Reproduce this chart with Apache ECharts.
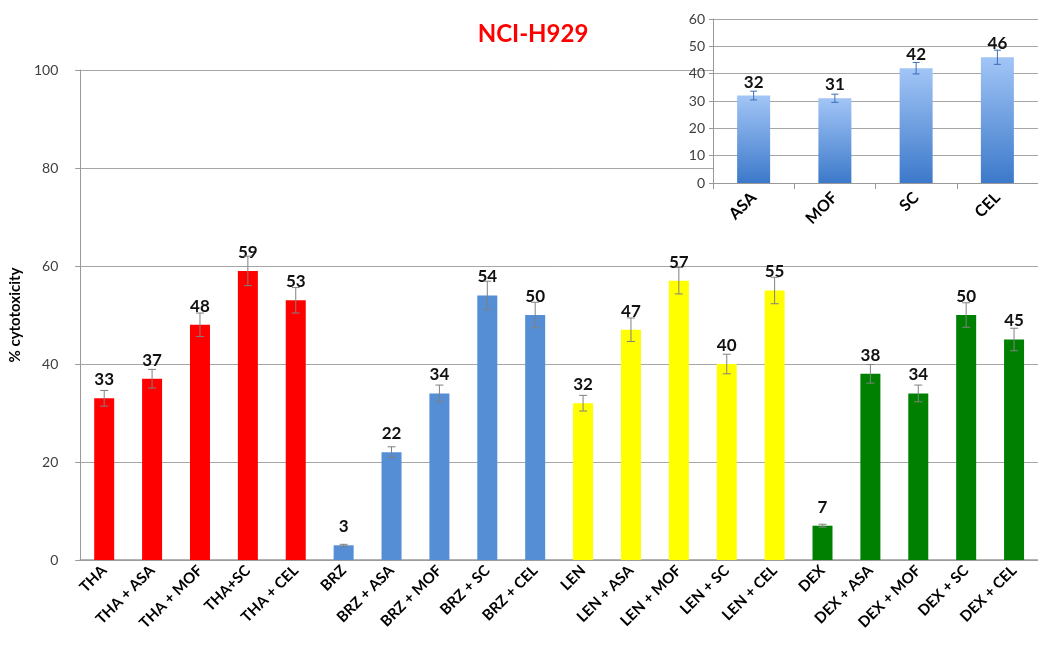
<!DOCTYPE html>
<html>
<head>
<meta charset="utf-8">
<script src="https://cdn.jsdelivr.net/npm/echarts@6/dist/echarts.min.js"></script>
<style>
  html, body { margin: 0; padding: 0; background: #fff; }
  #chart { width: 1038px; height: 647px; }
</style>
</head>
<body>
<div id="chart"></div>
<script>
var chart = echarts.init(document.getElementById('chart'));
var option;

// main chart
const categories = ['THA', 'THA + ASA', 'THA + MOF', 'THA+SC', 'THA + CEL',
  'BRZ', 'BRZ + ASA', 'BRZ + MOF', 'BRZ + SC', 'BRZ + CEL',
  'LEN', 'LEN + ASA', 'LEN + MOF', 'LEN + SC', 'LEN + CEL',
  'DEX', 'DEX + ASA', 'DEX + MOF', 'DEX + SC', 'DEX + CEL'];
const values = [33, 37, 48, 59, 53, 3, 22, 34, 54, 50, 32, 47, 57, 40, 55, 7, 38, 34, 50, 45];
const errors = [1.6, 1.9, 2.4, 3.0, 2.6, 0.2, 1.1, 1.7, 2.9, 2.6, 1.6, 2.4, 2.7, 2.0, 2.7, 0.3, 1.9, 1.7, 2.5, 2.3];
const groupColors = ['#ff0000', '#558ed5', '#ffff00', '#008000'];

// inset chart
const insetCategories = ['ASA', 'MOF', 'SC', 'CEL'];
const insetValues = [32, 31, 42, 46];
const insetErrors = [1.6, 1.5, 2.1, 2.6];

const font = 'Lato, "Open Sans", sans-serif';

function errorBar(capHalf, color) {
  return function (params, api) {
    var x = api.value(0);
    var lo = api.coord([x, api.value(1) - api.value(2)]);
    var hi = api.coord([x, api.value(1) + api.value(2)]);
    var st = { stroke: color, lineWidth: 1 };
    return {
      type: 'group',
      children: [
        { type: 'line', shape: { x1: lo[0], y1: lo[1], x2: hi[0], y2: hi[1] }, style: st },
        { type: 'line', shape: { x1: lo[0] - capHalf, y1: lo[1], x2: lo[0] + capHalf, y2: lo[1] }, style: st },
        { type: 'line', shape: { x1: hi[0] - capHalf, y1: hi[1], x2: hi[0] + capHalf, y2: hi[1] }, style: st }
      ]
    };
  };
}

option = {
  backgroundColor: '#fff',
  animation: false,
  title: {
    text: 'NCI-H929',
    left: 528,
    top: 17,
    textAlign: 'center',
    textStyle: { color: '#ff0000', fontSize: 24, fontWeight: 'bold', fontFamily: font }
  },
  grid: [
    { left: 76, right: -13, top: 70, bottom: 87 },
    { left: 713, right: -12, top: 19, bottom: 464, show: true, backgroundColor: '#fff', borderWidth: 0, z: 10 }
  ],
  xAxis: [
    {
      type: 'category',
      gridIndex: 0,
      data: categories,
      axisLine: { lineStyle: { color: '#999', width: 1.5 } },
      axisTick: { show: false },
      axisLabel: {
        rotate: 45, interval: 0, margin: 8,
        color: '#000', fontWeight: 'bold', fontSize: 15, fontFamily: font
      }
    },
    {
      type: 'category',
      gridIndex: 1,
      data: insetCategories,
      z: 11,
      axisLine: { lineStyle: { color: '#999' } },
      axisTick: { show: true, length: 6, lineStyle: { color: '#999' } },
      axisLabel: {
        rotate: 45, interval: 0, margin: 12,
        color: '#000', fontWeight: 'bold', fontSize: 16, fontFamily: font
      }
    }
  ],
  yAxis: [
    {
      type: 'value',
      gridIndex: 0,
      min: 0, max: 100, interval: 20,
      name: '% cytotoxicity',
      nameLocation: 'middle',
      nameGap: 56,
      nameTextStyle: { color: '#000', fontWeight: 'bold', fontSize: 15, fontFamily: font },
      axisLine: { show: true, lineStyle: { color: '#999' } },
      axisTick: { show: true, length: 5, lineStyle: { color: '#999' } },
      axisLabel: { color: '#404040', fontSize: 14, margin: 22, fontFamily: font },
      splitLine: { lineStyle: { color: '#a6a6a6' } }
    },
    {
      type: 'value',
      gridIndex: 1,
      min: 0, max: 60, interval: 10,
      z: 11,
      axisLine: { show: true, lineStyle: { color: '#999' } },
      axisTick: { show: true, length: 4, lineStyle: { color: '#999' } },
      axisLabel: { color: '#404040', fontSize: 14, margin: 8, fontFamily: font },
      splitLine: { lineStyle: { color: '#a6a6a6' } }
    }
  ],
  series: [
    {
      type: 'bar',
      xAxisIndex: 0,
      yAxisIndex: 0,
      data: values,
      barWidth: 20,
      itemStyle: {
        color: function (p) { return groupColors[Math.floor(p.dataIndex / 5)]; }
      },
      label: {
        show: true, position: 'top', distance: 10,
        color: '#111', fontWeight: 'bold', fontSize: 17, fontFamily: font
      }
    },
    {
      type: 'custom',
      xAxisIndex: 0,
      yAxisIndex: 0,
      z: 3,
      renderItem: errorBar(4, '#808080'),
      data: values.map(function (v, i) { return [i, v, errors[i]]; })
    },
    {
      type: 'bar',
      xAxisIndex: 1,
      yAxisIndex: 1,
      z: 12,
      data: insetValues,
      barWidth: 33,
      itemStyle: {
        color: new echarts.graphic.LinearGradient(0, 0, 0, 1, [
          { offset: 0, color: '#a2c5f6' },
          { offset: 1, color: '#3c79ca' }
        ])
      },
      label: {
        show: true, position: 'top', distance: 5,
        color: '#111', fontWeight: 'bold', fontSize: 17, fontFamily: font
      }
    },
    {
      type: 'custom',
      xAxisIndex: 1,
      yAxisIndex: 1,
      z: 13,
      renderItem: errorBar(3.5, '#3b6fb6'),
      data: insetValues.map(function (v, i) { return [i, v, insetErrors[i]]; })
    }
  ]
};

option && chart.setOption(option);
</script>
</body>
</html>
